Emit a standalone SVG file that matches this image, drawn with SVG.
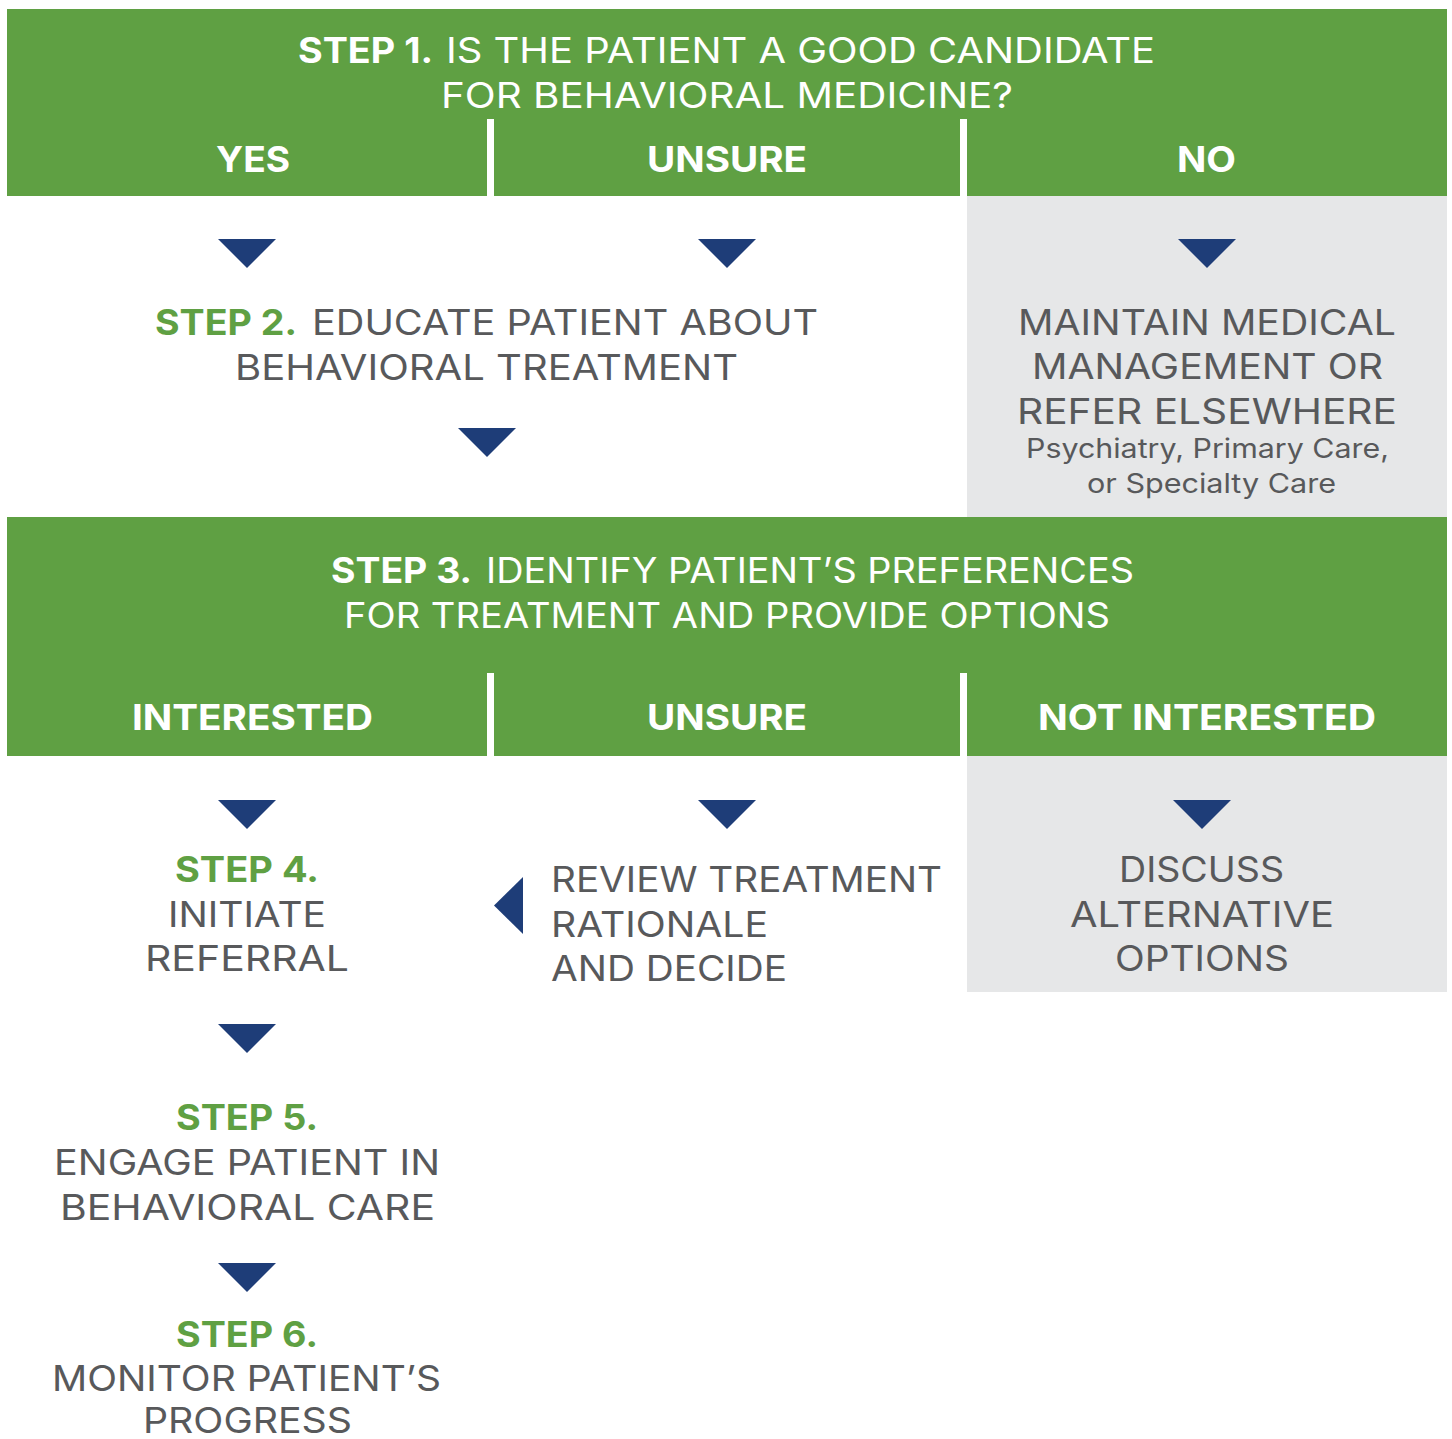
<svg xmlns="http://www.w3.org/2000/svg" width="1452" height="1439" viewBox="0 0 1452 1439">
<style>
.g{fill:#5fa043}
.gr{fill:#e6e7e8}
.tri{fill:#1e3d78}
text{font-family:Inter,"Liberation Sans",sans-serif}
.w{fill:#ffffff;font-size:35px}
.wb{fill:#ffffff;font-size:36px;font-weight:700}
.b{fill:#ffffff;font-size:35px;font-weight:700}
.t{fill:#58595b;font-size:35px}
.s{fill:#58595b;font-size:27px}
.sg{fill:#5fa043;font-size:35px;font-weight:700}
</style>
<rect width="1452" height="1439" fill="#ffffff"/>
<g id="step1">
<rect class="g" x="7" y="9" width="1440" height="187"/>
<rect fill="#ffffff" x="487" y="119" width="7" height="77"/>
<rect fill="#ffffff" x="960" y="119" width="7" height="77"/>
<text class="b" x="298" y="63" textLength="135" lengthAdjust="spacingAndGlyphs">STEP 1.</text>
<text class="w" x="446" y="63" textLength="709" lengthAdjust="spacingAndGlyphs">IS THE PATIENT A GOOD CANDIDATE</text>
<text class="w" x="441" y="108" textLength="572" lengthAdjust="spacingAndGlyphs">FOR BEHAVIORAL MEDICINE?</text>
</g>
<g id="yes"><text class="wb" x="216" y="172" textLength="74" lengthAdjust="spacingAndGlyphs">YES</text></g>
<g id="unsure1"><text class="wb" x="647" y="172" textLength="160" lengthAdjust="spacingAndGlyphs">UNSURE</text></g>
<g id="no"><text class="wb" x="1177" y="172" textLength="59" lengthAdjust="spacingAndGlyphs">NO</text></g>
<g id="step2">
<text class="sg" x="155" y="335" textLength="142" lengthAdjust="spacingAndGlyphs">STEP 2.</text>
<text class="t" x="312" y="335" textLength="506" lengthAdjust="spacingAndGlyphs">EDUCATE PATIENT ABOUT</text>
<text class="t" x="235" y="380" textLength="503" lengthAdjust="spacingAndGlyphs">BEHAVIORAL TREATMENT</text>
</g>
<g id="maintain">
<rect class="gr" x="967" y="196" width="480" height="321"/>
<text class="t" x="1018" y="335" textLength="378" lengthAdjust="spacingAndGlyphs">MAINTAIN MEDICAL</text>
<text class="t" x="1032" y="379" textLength="351" lengthAdjust="spacingAndGlyphs">MANAGEMENT OR</text>
<text class="t" x="1017" y="424" textLength="380" lengthAdjust="spacingAndGlyphs">REFER ELSEWHERE</text>
<text class="s" x="1026" y="458" textLength="363" lengthAdjust="spacingAndGlyphs">Psychiatry, Primary Care,</text>
<text class="s" x="1087" y="493" textLength="249" lengthAdjust="spacingAndGlyphs">or Specialty Care</text>
</g>
<g id="step3">
<rect class="g" x="7" y="517" width="1440" height="239"/>
<rect fill="#ffffff" x="487" y="673" width="7" height="83"/>
<rect fill="#ffffff" x="960" y="673" width="7" height="83"/>
<text class="b" x="331" y="583" textLength="141" lengthAdjust="spacingAndGlyphs">STEP 3.</text>
<text class="w" x="486" y="583" textLength="648" lengthAdjust="spacingAndGlyphs">IDENTIFY PATIENT’S PREFERENCES</text>
<text class="w" x="344" y="628" textLength="766" lengthAdjust="spacingAndGlyphs">FOR TREATMENT AND PROVIDE OPTIONS</text>
</g>
<g id="interested"><text class="wb" x="132" y="730" textLength="241" lengthAdjust="spacingAndGlyphs">INTERESTED</text></g>
<g id="unsure2"><text class="wb" x="647" y="730" textLength="160" lengthAdjust="spacingAndGlyphs">UNSURE</text></g>
<g id="notinterested"><text class="wb" x="1038" y="730" textLength="338" lengthAdjust="spacingAndGlyphs">NOT INTERESTED</text></g>
<g id="step4">
<text class="sg" x="175" y="882" textLength="144" lengthAdjust="spacingAndGlyphs">STEP 4.</text>
<text class="t" x="168" y="927" textLength="158" lengthAdjust="spacingAndGlyphs">INITIATE</text>
<text class="t" x="145" y="971" textLength="204" lengthAdjust="spacingAndGlyphs">REFERRAL</text>
</g>
<g id="review">
<text class="t" x="551" y="892" textLength="391" lengthAdjust="spacingAndGlyphs">REVIEW TREATMENT</text>
<text class="t" x="551" y="937" textLength="217" lengthAdjust="spacingAndGlyphs">RATIONALE</text>
<text class="t" x="551" y="981" textLength="236" lengthAdjust="spacingAndGlyphs">AND DECIDE</text>
</g>
<g id="discuss">
<rect class="gr" x="967" y="756" width="480" height="236"/>
<text class="t" x="1119" y="882" textLength="165" lengthAdjust="spacingAndGlyphs">DISCUSS</text>
<text class="t" x="1070" y="927" textLength="264" lengthAdjust="spacingAndGlyphs">ALTERNATIVE</text>
<text class="t" x="1115" y="971" textLength="174" lengthAdjust="spacingAndGlyphs">OPTIONS</text>
</g>
<g id="step5">
<text class="sg" x="176" y="1130" textLength="142" lengthAdjust="spacingAndGlyphs">STEP 5.</text>
<text class="t" x="54" y="1175" textLength="386" lengthAdjust="spacingAndGlyphs">ENGAGE PATIENT IN</text>
<text class="t" x="60" y="1220" textLength="375" lengthAdjust="spacingAndGlyphs">BEHAVIORAL CARE</text>
</g>
<g id="step6">
<text class="sg" x="176" y="1347" textLength="142" lengthAdjust="spacingAndGlyphs">STEP 6.</text>
<text class="t" x="52" y="1391" textLength="389" lengthAdjust="spacingAndGlyphs">MONITOR PATIENT’S</text>
<text class="t" x="143" y="1433" textLength="209" lengthAdjust="spacingAndGlyphs">PROGRESS</text>
</g>
<g id="connectors">
<polygon class="tri" points="218,239 276,239 247,268"/>
<polygon class="tri" points="698,239 756,239 727,268"/>
<polygon class="tri" points="1178,239 1236,239 1207,268"/>
<polygon class="tri" points="458,428 516,428 487,457"/>
<polygon class="tri" points="218,800 276,800 247,829"/>
<polygon class="tri" points="698,800 756,800 727,829"/>
<polygon class="tri" points="1173,800 1231,800 1202,829"/>
<polygon class="tri" points="523,877 523,934 494,905.5"/>
<polygon class="tri" points="218,1024 276,1024 247,1053"/>
<polygon class="tri" points="218,1263 276,1263 247,1292"/>
</g>
</svg>
